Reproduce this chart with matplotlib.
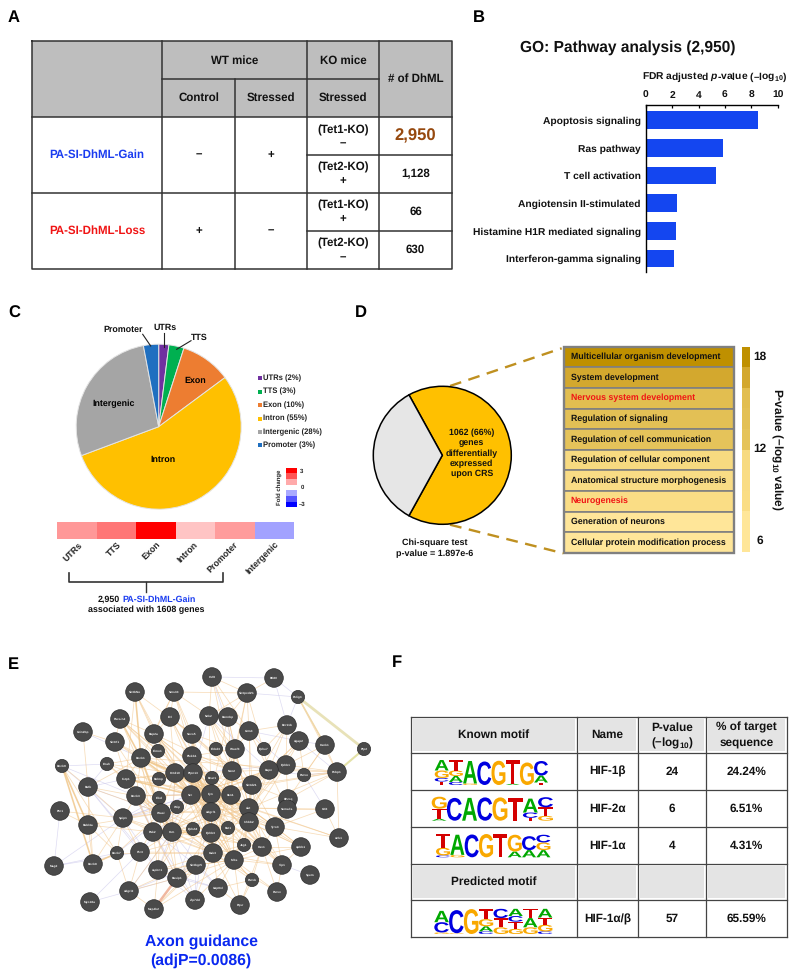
import numpy as np
import matplotlib
matplotlib.use("Agg")
import matplotlib.pyplot as plt
from matplotlib.colors import ListedColormap
from matplotlib.patches import Circle, PathPatch, Rectangle
from matplotlib.textpath import TextPath
from matplotlib.font_manager import FontProperties
from matplotlib.transforms import Affine2D

plt.rcParams['font.family'] = ['Liberation Sans', 'DejaVu Sans']
plt.rcParams['font.weight'] = 'bold'
plt.rcParams['text.hinting'] = 'no_hinting'
plt.rcParams['mathtext.fontset'] = 'custom'
plt.rcParams['mathtext.rm'] = 'Liberation Sans:bold'
plt.rcParams['mathtext.bf'] = 'Liberation Sans:bold'
plt.rcParams['mathtext.it'] = 'Liberation Sans:italic:bold'
plt.rcParams['mathtext.bfit'] = 'Liberation Sans:italic:bold'

# panel B
pathways = ['Apoptosis signaling', 'Ras pathway', 'T cell activation', 'Angiotensin II-stimulated',
            'Histamine H1R mediated signaling', 'Interferon-gamma signaling']
pathway_fdr = [8.5, 5.83, 5.33, 2.35, 2.27, 2.17]

# panel C
region_names = ['UTRs', 'TTS', 'Exon', 'Intron', 'Intergenic', 'Promoter']
region_pct = [2, 3, 10, 55, 28, 3]
region_colors = ['#7030A0', '#00B050', '#ED7D31', '#FFC000', '#A5A5A5', '#1F6FC0']
heat_names = ['UTRs', 'TTS', 'Exon', 'Intron', 'Promoter', 'Intergenic']
heat_fold = [1.2, 1.6, 3.0, 0.7, 1.17, -1.1]
fold_scale = [3, 2, 1, 0, -1, -2, -3]

# panel D
deg_counts = [1062, 546]
go_terms = ['Multicellular organism development', 'System development', 'Nervous system development',
            'Regulation of signaling', 'Regulation of cell communication', 'Regulation of cellular component',
            'Anatomical structure morphogenesis', 'Neurogenesis', 'Generation of neurons',
            'Cellular protein modification process']
go_colors = ['#BF9000', '#D3A82E', '#E2BE50', '#E3C055', '#E5C35A', '#F7DA80', '#F9DC85', '#FADD85', '#FFE699', '#FFE699']
go_red = ['Nervous system development', 'Neurogenesis']

# panel E
node_names = ['Sh3bNe', 'Sms33', 'Ezl', 'Pacsin2', 'Grin2bp', 'Sh3rf1', 'Rap2a', 'Socs5', 'Dock1', 'Elmo1',
              'Plekb1', 'Enah', 'Dock9', 'Fstp1', 'Kctd10', 'Ptpn13', 'Relmp', 'Rafb', 'Dock3', 'Elkd',
              'Src', 'Wasl', 'Wip', 'Ptn1', 'Spip1', 'Rabl4a', 'Pak2', 'Ctm', 'EphA8', 'Hic3',
              'Dock7', 'Dock8', 'Mag2', 'Atpbn1', 'Sh3bgr5', 'Rasip1', 'Adgrl2', 'Zfp7dd', 'Myo18a', 'Map2k2',
              'Cef8', 'Rtl80', 'Sh3pxd2b', 'Pelig4', 'Nck2', 'Dennbp', 'Grm3', 'Bcr11b', 'Agap2', 'Kank1',
              'Ptp2', 'Ehbd3', 'Wasf3', 'Ephe7', 'Ephb1', 'Dapn', 'Nsn2', 'Bcar1', 'Parvo', 'Pebp1',
              'Sh3d21', 'Fyn', 'Itsn1', 'Dhcrq', 'Sema7a', 'Gtl3', 'Akt', 'Adgrf1', 'Inhbb2', 'Rat1',
              'Tyro3', 'Ephb3', 'Ank1', 'Jag1', 'Cav1', 'Apbb1', 'Gsk3', 'Mlbs', 'Vip1', 'Syem',
              'Parvb', 'Parvx', 'Uap8nl', 'Pqsr']
node_x = [135, 174, 170, 120, 83, 115, 154, 192, 141, 158, 192, 107, 62, 126, 175, 193, 159, 88, 136, 159,
          191, 161, 177, 60, 123, 88, 153, 172, 193, 140, 117, 93, 54, 158, 196, 177, 129, 195, 90, 154,
          212, 274, 247, 298, 209, 228, 249, 287, 299, 325, 364, 216, 235, 264, 286, 269, 232, 212, 304, 337,
          252, 211, 231, 288, 287, 325, 249, 211, 249, 228, 275, 211, 339, 244, 262, 301, 213, 234, 282, 310,
          252, 277, 218, 240]
node_y = [692, 692, 717, 719, 732, 742, 734, 734, 758, 751, 756, 764, 766, 779, 773, 773, 779, 787, 796, 798,
          795, 813, 807, 811, 818, 825, 832, 832, 829, 852, 853, 864, 866, 870, 865, 878, 891, 900, 902, 909,
          677, 678, 693, 697, 716, 717, 731, 725, 741, 745, 749, 749, 749, 749, 765, 770, 771, 778, 775, 772,
          785, 794, 795, 799, 809, 809, 808, 812, 822, 828, 827, 833, 838, 845, 847, 847, 853, 860, 865, 875,
          880, 892, 888, 905]
small_nodes = ['Enah', 'Dock9', 'Relmp', 'Elkd', 'Wip', 'EphA8', 'Dock7', 'Pelig4', 'Ptp2', 'Ehbd3', 'Ephe7',
               'Bcar1', 'Parvo', 'Rat1', 'Jag1', 'Parvb', 'Elmo1']

orange_edges = {
    'Sh3bNe': 'Rap2a Dock1 Socs5 Fstp1 Kctd10 Src',
    'Sms33': 'Ezl Socs5 Rap2a Plekb1 Nck2 Sh3pxd2b Dock1 Fyn',
    'Ezl': 'Rap2a Socs5 Plekb1 Ptpn13 Kctd10 Fyn Nsn2',
    'Pacsin2': 'Dock1 Sh3rf1 Rap2a Kctd10 Src Fyn Elmo1 Wasl',
    'Grin2bp': 'Sh3rf1 Rafb',
    'Sh3rf1': 'Dock1 Fstp1 Src Wasl Kctd10',
    'Rap2a': 'Fyn Src Wasl Ptpn13 Nsn2 Akt Itsn1 Adgrf1',
    'Socs5': 'Fyn Src Plekb1 Wasf3 Gsk3 Nsn2 Sh3d21 Ephb3',
    'Dock1': 'Kctd10 Src Wasl Ptpn13 Fyn Elmo1 Pak2 Akt Itsn1 Dock3 Rafb Fstp1 Pebp1 Ctm',
    'Plekb1': 'Fyn Src Akt Adgrf1 Ephb3 Wasf3 Nsn2 Dapn',
    'Enah': 'Fstp1 Dock1 Wasl Src Kctd10',
    'Dock9': 'Dock8 Rabl4a Rafb Dock7',
    'Fstp1': 'Src Wasl Kctd10 Pak2 Ctm Fyn Ptpn13 Itsn1',
    'Kctd10': 'Fyn Src Ctm Wasl Adgrf1 Ephb3 Gsk3 Akt Itsn1 Mlbs Inhbb2',
    'Ptpn13': 'Fyn Src Adgrf1 Ephb3 Gsk3 Itsn1 Akt Mlbs Sh3d21 Dapn Inhbb2 Cav1',
    'Rafb': 'Dock3 Spip1 Rabl4a Dock8 Wasl',
    'Dock3': 'Src Fyn Wasl Pak2 Ctm Spip1 Gsk3 Ephb3',
    'Src': 'Fyn Adgrf1 Ephb3 Gsk3 Akt Itsn1 Mlbs Nsn2 Inhbb2 Cav1 Tyro3 Sh3d21 Dapn Jag1 Apbb1 Ephb1 Vip1',
    'Wasl': 'Fyn Ctm Pak2 Gsk3 Ephb3 Adgrf1 Akt Mlbs Spip1 Atpbn1 Rasip1',
    'Ptn1': 'Rabl4a Spip1',
    'Spip1': 'Pak2 Ctm Dock7 Fyn Hic3 Dock8 Gsk3',
    'Rabl4a': 'Dock8 Dock7 Pak2 Wasl',
    'Pak2': 'Ctm Fyn Gsk3 Ephb3 Akt Atpbn1 Rasip1 Adgrf1',
    'Ctm': 'Fyn Gsk3 Ephb3 Mlbs Akt Cav1 Rasip1 Inhbb2 Itsn1',
    'Hic3': 'Wasl Ctm Ephb3 Gsk3 Adgrl2',
    'Dock7': 'Dock8 Wasl Gsk3 Adgrl2',
    'Atpbn1': 'Fyn Gsk3 Mlbs Src Map2k2',
    'Sh3bgr5': 'Gsk3 Mlbs Fyn Rasip1',
    'Rasip1': 'Gsk3 Mlbs Ephb3 Akt',
    'Adgrl2': 'Map2k2 Rasip1 Gsk3 Ctm',
    'Map2k2': 'Gsk3 Mlbs Sh3bgr5',
    'Zfp7dd': 'Gsk3 Mlbs Rasip1',
    'Uap8nl': 'Mlbs Gsk3 Parvb Pqsr',
    'Pqsr': 'Mlbs Parvb Gsk3 Cav1',
    'Cef8': 'Sh3pxd2b Nck2 Dennbp Grm3 Nsn2',
    'Rtl80': 'Sh3pxd2b',
    'Sh3pxd2b': 'Nck2 Dennbp Grm3 Wasf3 Nsn2 Dapn',
    'Nck2': 'Dennbp Wasf3 Nsn2 Fyn Itsn1 Sh3d21',
    'Dennbp': 'Grm3 Wasf3 Nsn2 Fyn Akt',
    'Grm3': 'Ephe7 Dapn Wasf3 Sh3d21 Akt',
    'Bcr11b': 'Agap2 Ephb1 Dapn Ephe7 Grm3 Sh3d21',
    'Agap2': 'Ephb1 Dapn Sh3d21 Akt Parvo',
    'Pelig4': 'Kank1 Pebp1',
    'Kank1': 'Pebp1 Ephb1 Parvo Dhcrq',
    'Pebp1': 'Ephb1 Parvo Dhcrq Akt Sh3d21 Ank1 Fyn Dapn',
    'Ephb1': 'Dapn Sh3d21 Fyn Akt Dhcrq Inhbb2 Itsn1',
    'Dapn': 'Sh3d21 Fyn Akt Itsn1 Inhbb2 Sema7a',
    'Wasf3': 'Nsn2 Fyn Akt Itsn1 Ephb3',
    'Nsn2': 'Fyn Akt Itsn1 Adgrf1 Ephb3 Gsk3 Mlbs',
    'Sh3d21': 'Fyn Akt Itsn1 Inhbb2 Tyro3 Cav1 Dhcrq',
    'Fyn': 'Itsn1 Akt Adgrf1 Ephb3 Gsk3 Inhbb2 Mlbs Jag1 Cav1 Tyro3 Apbb1 Vip1 Ank1',
    'Itsn1': 'Akt Adgrf1 Ephb3 Gsk3 Inhbb2 Mlbs Cav1 Tyro3',
    'Akt': 'Inhbb2 Ephb3 Gsk3 Mlbs Tyro3 Cav1 Apbb1 Sema7a Gtl3 Ank1 Vip1 Jag1',
    'Adgrf1': 'Ephb3 Gsk3 Rat1 Mlbs Inhbb2 Cav1',
    'Inhbb2': 'Tyro3 Jag1 Cav1 Gsk3 Mlbs Apbb1 Vip1',
    'Tyro3': 'Apbb1 Cav1 Sema7a Gtl3 Ank1 Vip1',
    'Ephb3': 'Gsk3 Mlbs Jag1 Cav1 Parvb',
    'Gsk3': 'Mlbs Jag1 Cav1 Parvb Parvx Vip1',
    'Mlbs': 'Parvb Cav1 Vip1 Parvx Apbb1',
    'Cav1': 'Vip1 Apbb1 Parvx Parvb',
    'Vip1': 'Parvx Apbb1',
    'Gtl3': 'Ank1 Sema7a',
}
lilac_edges = {
    'Rafb': 'Fstp1 Wasl Hic3 Atpbn1 Enah',
    'Dock9': 'Enah Dock3 Spip1',
    'Mag2': 'Spip1 Hic3 Dock7 Ptn1',
    'Myo18a': 'Hic3 Rasip1',
    'Grin2bp': 'Dock1',
    'Spip1': 'Src Elkd Wip Atpbn1',
    'Pak2': 'Zfp7dd Sh3bgr5 Fstp1',
    'Ctm': 'Zfp7dd Uap8nl Adgrl2 Kctd10',
    'Atpbn1': 'Zfp7dd Uap8nl Ptpn13',
    'Rasip1': 'Zfp7dd Uap8nl Dock3',
    'Cef8': 'Rtl80 Wasf3',
    'Rtl80': 'Pelig4 Bcr11b',
    'Pelig4': 'Bcr11b Sh3pxd2b',
    'Nck2': 'Ptpn13 Dapn',
    'Grm3': 'Ephb1 Agap2',
    'Parvo': 'Dapn Pebp1 Gtl3',
    'Agap2': 'Kank1 Pebp1',
    'Ephb1': 'Ptpn13',
    'Fyn': 'Rasip1 Zfp7dd Dock3',
    'Sh3bgr5': 'Uap8nl Zfp7dd Adgrl2',
    'Syem': 'Vip1',
    'Src': 'Spip1 Hic3 Dock7',
}
strong_edges = ['Dock1 Kctd10', 'Dock1 Src', 'Dock1 Wasl', 'Kctd10 Fyn', 'Ptpn13 Fyn', 'Src Fyn', 'Wasl Ctm', 'Fstp1 Src',
                'Sh3bNe Dock1', 'Pacsin2 Dock1', 'Dock9 Dock8', 'Dock9 Rabl4a', 'Ctm Ephb3', 'Gsk3 Ephb3', 'Fyn Akt', 'Dock7 Dock8']
special_edges = ['Map2k2 Rasip1', 'Pelig4 Ptp2', 'Ptp2 Pebp1', 'Pelig4 Kank1']

# panel F
table_rows = [['HIF-1β', '24', '24.24%'], ['HIF-2α', '6', '6.51%'], ['HIF-1α', '4', '4.31%'],
              ['', '', ''], ['HIF-1α/β', '57', '65.59%']]
motif_hif1b = [[('T', .14), ('C', .14), ('G', .3), ('A', .42)], [('C', .12), ('A', .24), ('G', .22), ('T', .42)],
               [('G', .06), ('A', .9)], [('C', .94)], [('G', .97)], [('A', .05), ('T', .95)], [('G', .9)],
               [('T', .1), ('A', .28), ('C', .58)]]
motif_hif2a = [[('A', .08), ('T', .42), ('G', .5)], [('C', .95)], [('A', .95)], [('C', .97)], [('G', .97)],
               [('T', .95)], [('T', .12), ('C', .22), ('A', .58)], [('G', .2), ('T', .36), ('C', .42)]]
motif_hif1a = [[('C', .08), ('G', .32), ('T', .58)], [('G', .1), ('A', .84)], [('C', .95)], [('G', .97)],
               [('T', .97)], [('A', .24), ('G', .7)], [('A', .3), ('C', .58)], [('A', .3), ('G', .32), ('C', .32)]]
motif_pred = [[('G', .06), ('C', .4), ('A', .44)], [('G', .03), ('C', .9)], [('G', .97)],
              [('C', .1), ('A', .2), ('G', .28), ('T', .38)], [('G', .26), ('T', .36), ('C', .36)],
              [('G', .2), ('T', .28), ('C', .22), ('A', .28)], [('G', .26), ('A', .36), ('T', .36)],
              [('C', .1), ('G', .26), ('T', .28), ('A', .34)]]
letter_colors = {'A': '#00A800', 'C': '#0000E0', 'G': '#F9A800', 'T': '#D40000'}

W, H = 800, 975
fig = plt.figure(figsize=(W / 100, H / 100), dpi=100)
ax = fig.add_axes([0, 0, 1, 1])
ax.set_xlim(0, W)
ax.set_ylim(H, 0)
ax.axis('off')
top = fig.add_axes([0, 0, 1, 1], zorder=5)
top.set_xlim(0, W)
top.set_ylim(H, 0)
top.axis('off')


def px_axes(x0, y0, x1, y1):
    return fig.add_axes([x0 / W, 1 - y1 / H, (x1 - x0) / W, (y1 - y0) / H])


def label(x, y, s, size=8.3, color='#111111', ha='center', **kw):
    top.text(x, y, s, fontsize=size, color=color, ha=ha, va='center', **kw)


for letter, lx, ly in [('A', 14, 18), ('B', 479, 18), ('C', 14, 313), ('D', 361, 313), ('E', 13, 665), ('F', 397, 663)]:
    label(lx, ly, letter, size=12, color='black')

# ---- A: table
xs = [32, 162, 234.5, 306.5, 379, 452]
ys = [41, 79, 117, 155, 193, 231, 269]
ax.add_patch(Rectangle((xs[0], ys[0]), xs[-1] - xs[0], ys[2] - ys[0], fc='#BEBEBE', ec='none'))
lc = '#333333'
ax.plot([xs[0], xs[-1], xs[-1], xs[0], xs[0]], [ys[0], ys[0], ys[-1], ys[-1], ys[0]], color=lc, lw=1.1)
ax.plot([xs[1], xs[1]], [ys[0], ys[-1]], color=lc, lw=1.1)
ax.plot([xs[2], xs[2]], [ys[1], ys[-1]], color=lc, lw=1.1)
ax.plot([xs[3], xs[3]], [ys[0], ys[-1]], color=lc, lw=1.1)
ax.plot([xs[4], xs[4]], [ys[0], ys[-1]], color=lc, lw=1.1)
ax.plot([xs[1], xs[4]], [ys[1], ys[1]], color=lc, lw=1.1)
ax.plot([xs[0], xs[-1]], [ys[2], ys[2]], color=lc, lw=1.1)
ax.plot([xs[0], xs[-1]], [ys[4], ys[4]], color=lc, lw=1.1)
ax.plot([xs[3], xs[-1]], [ys[3], ys[3]], color=lc, lw=1.1)
ax.plot([xs[3], xs[-1]], [ys[5], ys[5]], color=lc, lw=1.1)
label(234.5, 60.5, 'WT mice')
label(343, 60.5, 'KO mice')
label(198.5, 98, 'Control')
label(270.5, 98, 'Stressed')
label(343, 98, 'Stressed')
label(415.5, 79, '# of DhML')
label(97, 155, 'PA-SI-DhML-Gain', color='#1A3CF0')
label(97, 231, 'PA-SI-DhML-Loss', color='#F01414')
for x_, y_, s in [(198.5, 155, '–'), (270.5, 155, '+'), (198.5, 231, '+'), (270.5, 231, '–')]:
    label(x_, y_, s)
for y_, s in [(130, '(Tet1-KO)'), (167.5, '(Tet2-KO)'), (205.5, '(Tet1-KO)'), (243.5, '(Tet2-KO)')]:
    label(343, y_, s)
for y_, s in [(144, '–'), (181, '+'), (219, '+'), (257.5, '–')]:
    label(343, y_, s)
label(415.5, 136, '2,950', size=12, color='#96490F')
label(415.5, 174, '1,128')
label(415.5, 212, '66')
label(415.5, 250, '630')

# ---- B: bars
axb = px_axes(645.7, 105, 777.7, 272)
axb.barh(np.arange(len(pathways)), pathway_fdr, height=0.63, color='#1446F0')
axb.set_xlim(0, 10)
axb.set_ylim(5.49, -0.55)
axb.set_xticks([0, 2, 4, 6, 8, 10])
axb.set_yticks(np.arange(len(pathways)))
axb.set_yticklabels(pathways, fontsize=7.4, color='#111111')
axb.xaxis.tick_top()
axb.tick_params(axis='x', direction='in', length=2.5, width=0.9, labelsize=7.4, pad=3.5, labelcolor='#111111')
axb.tick_params(axis='y', length=0, pad=3.5)
axb.spines['right'].set_visible(False)
axb.spines['bottom'].set_visible(False)
axb.spines['top'].set_linewidth(1.0)
axb.spines['left'].set_linewidth(1.0)
axb.patch.set_alpha(0)
label(628, 48, 'GO: Pathway analysis (2,950)', size=11.2)
label(715, 77, 'FDR adjusted $\\mathbfit{p}$-value (–log$_{\\mathbf{10}}$)', size=7.4)

# ---- C: pie, legend, heat strip
axc = px_axes(158.7 - 82.5, 426.7 - 82.5, 158.7 + 82.5, 426.7 + 82.5)
axc.pie(region_pct, colors=region_colors, startangle=90, counterclock=False, radius=1,
        wedgeprops={'edgecolor': '#E4E4E4', 'linewidth': 0.7})
axc.set_xlim(-1, 1)
axc.set_ylim(-1, 1)
label(195, 381, 'Exon', size=6.4, color='black')
label(113.7, 404, 'Intergenic', size=6.4, color='black')
label(162.7, 460, 'Intron', size=6.4, color='black')
label(123, 330, 'Promoter', size=6.4)
label(165, 328, 'UTRs', size=6.4)
label(199, 338, 'TTS', size=6.4)
top.plot([142.7, 150.7], [334.3, 346], color='#222222', lw=0.8)
top.plot([163.7, 163.7], [333.3, 346.7], color='#222222', lw=0.8)
top.plot([191, 176.7], [340.7, 349.3], color='#222222', lw=0.8)
for i, (name, pct, col) in enumerate(zip(region_names, region_pct, region_colors)):
    ly = 378.3 + i * 13.4
    ax.add_patch(Rectangle((257.7, ly - 2), 4, 4, fc=col, ec='none'))
    label(263, ly, f'{name} ({pct}%)', size=5.5, ha='left', color='#222222')

axh = px_axes(57.3, 521.7, 294, 539.3)
axh.pcolormesh(np.array([heat_fold]), cmap='bwr', vmin=-3, vmax=3)
axh.set_xticks(np.arange(len(heat_names)) + 0.5)
axh.set_xticklabels([])
axh.set_yticks([])
axh.tick_params(length=0)
for sp in axh.spines.values():
    sp.set_visible(False)
for name, lx, ly in zip(heat_names, [72.7, 114, 151.7, 188, 223, 262.7], [551.7, 549, 550.7, 552, 557, 558]):
    label(lx, ly, name, size=6.4, rotation=45, color='#222222')
axs = px_axes(285.7, 467.7, 296.7, 507.3)
axs.pcolormesh(np.array(fold_scale)[::-1].reshape(-1, 1), cmap='bwr', vmin=-3, vmax=3)
axs.axis('off')
label(279, 487.5, 'Fold change', size=4.3, rotation=90, color='#222222')
label(302, 471, '3', size=4.3, color='#222222')
label(302, 487.3, '0', size=4.3, color='#222222')
label(302, 504.3, '–3', size=4.3, color='#222222')
ax.plot([68.7, 68.7, 222.7, 222.7], [573, 582.3, 582.3, 573], color='#333333', lw=1.2)
ax.plot([145.7, 145.7], [582.3, 592], color='#333333', lw=1.0)
label(97.3, 599.7, '2,950', size=6.4, ha='left')
label(122, 599.7, 'PA-SI-DhML-Gain', size=6.4, ha='left', color='#1A3CF0')
label(146, 610, 'associated with 1608 genes', size=6.4)

# ---- D: pie and GO table
gold = '#BF9020'
axd = px_axes(442.3 - 70, 455.3 - 70, 442.3 + 70, 455.3 + 70)
axd.pie(deg_counts, colors=['#FFC000', '#E6E6E6'], startangle=-118.9, radius=69 / 70,
        wedgeprops={'edgecolor': 'black', 'linewidth': 1.1})
axd.set_xlim(-1, 1)
axd.set_ylim(-1, 1)
for i, s in enumerate(['1062 (66%)', 'genes', 'differentially', 'expressed', 'upon CRS']):
    label(471.7, 432.7 + i * 10.4, s, size=6.3)
label(434.3, 543.3, 'Chi-square test', size=6.5)
label(434.3, 553.7, 'p-value = 1.897e-6', size=6.5)
ax.plot([450, 561.7], [386, 348.3], color=gold, lw=1.7, ls=(0, (5, 3.2)))
ax.plot([450, 563.3], [524.7, 553.3], color=gold, lw=1.7, ls=(0, (5, 3.2)))

row_h = (552.7 - 346.7) / len(go_terms)
for i, (term, col) in enumerate(zip(go_terms, go_colors)):
    ytop = 346.7 + i * row_h
    ax.add_patch(Rectangle((564, ytop), 170, row_h, fc=col, ec='#808080', lw=1.2))
    label(570.7, ytop + row_h / 2, term, size=6.3, ha='left',
          color='#F01414' if term in go_red else '#111111')
ax.add_patch(Rectangle((564, 346.7), 170, 206, fc='none', ec='#808080', lw=1.7))
axg = px_axes(741.7, 347, 749.7, 552)
# row 0 of the mesh is the bottom cell, so it takes the lightest colour
axg.pcolormesh(np.arange(len(go_colors)).reshape(-1, 1), cmap=ListedColormap(go_colors[::-1]))
axg.axis('off')
label(760, 356.7, '18', size=8.6)
label(760, 448.7, '12', size=8.6)
label(760, 540.7, '6', size=8.6)
label(777, 449, 'P-value (–log$_{\\mathbf{10}}$ value)', size=8.6, rotation=-90)

# ---- E: network
pos = {n: (x_, y_) for n, x_, y_ in zip(node_names, node_x, node_y)}
for src, targets in lilac_edges.items():
    for t in targets.split():
        ax.plot([pos[src][0], pos[t][0]], [pos[src][1], pos[t][1]], color='#C8C4EA', lw=0.5, alpha=0.6, zorder=1)
for src, targets in orange_edges.items():
    for t in targets.split():
        ax.plot([pos[src][0], pos[t][0]], [pos[src][1], pos[t][1]], color='#F2C68C', lw=0.55, alpha=0.6, zorder=1.2)
for e in strong_edges:
    a, b = e.split()
    ax.plot([pos[a][0], pos[b][0]], [pos[a][1], pos[b][1]], color='#F0C78A', lw=1.2, alpha=0.7, zorder=1.3)
for e, c, w in zip(special_edges, ['#F0B8A0', '#E8E2B8', '#E4E2A8', '#F0D8A8'], [1.8, 2.0, 1.5, 1.1]):
    a, b = e.split()
    ax.plot([pos[a][0], pos[b][0]], [pos[a][1], pos[b][1]], color=c, lw=w, zorder=1.3)
for n, x_, y_ in zip(node_names, node_x, node_y):
    r = 6.6 if n in small_nodes else 9.3
    ax.add_patch(Circle((x_, y_), r, fc='#4A4A4A', ec='#2E2E2E', lw=0.5, zorder=3))
    ax.text(x_, y_, n, fontsize=2.3, color='#EDEDED', ha='center', va='center', zorder=4)
label(201, 942, 'Axon guidance', size=11.3, color='#0A28F0')
label(201, 960.7, '(adjP=0.0086)', size=11.3, color='#0A28F0')

# ---- F: motif table
fx = [410.7, 576.7, 638.3, 705.7, 787.3]
fy = [716.7, 752.7, 789.7, 826.7, 863.7, 900.3, 937]
for r in [0, 4]:
    for c in range(4):
        ax.add_patch(Rectangle((fx[c] + 1.8, fy[r] + 1.8), fx[c + 1] - fx[c] - 3.6, fy[r + 1] - fy[r] - 3.6,
                               fc='#E4E4E4', ec='none'))
for x_ in fx:
    ax.plot([x_, x_], [fy[0], fy[-1]], color='#444444', lw=0.9)
for y_ in fy:
    ax.plot([fx[0], fx[-1]], [y_, y_], color='#444444', lw=0.9)
label(494, 735, 'Known motif', size=8.5)
label(607.5, 735, 'Name', size=8.5)
label(672, 727.5, 'P-value', size=8.5)
label(672, 743, '(–log$_{\\mathbf{10}}$)', size=8.5)
label(746.5, 727.5, '% of target', size=8.5)
label(746.5, 742.5, 'sequence', size=8.5)
label(494, 882, 'Predicted motif', size=8.5)
for row, yc in zip(table_rows, [771.5, 808.5, 845.5, 882, 919]):
    for c, s in enumerate(row):
        label((fx[c + 1] + fx[c + 2]) / 2, yc, s, size=8.5)

font = FontProperties(family='Liberation Sans', weight='bold')


def draw_logo(motif, x0, x1, y0, y1):
    w = (x1 - x0) / len(motif)
    hh = y1 - y0
    for i, stack in enumerate(motif):
        base = y1
        for letter, frac in stack:
            tp = TextPath((0, 0), letter, size=10, prop=font)
            bb = tp.get_extents()
            h_ = frac * hh
            tr = (Affine2D().translate(-bb.x0, -bb.y0).scale(w * 0.98 / bb.width, -h_ / bb.height)
                  .translate(x0 + i * w, base))
            ax.add_patch(PathPatch(tp, fc=letter_colors[letter], ec='none', transform=tr + ax.transData))
            base -= h_


draw_logo(motif_hif1b, 434.7, 548.3, 760, 785)
draw_logo(motif_hif2a, 431.7, 553.3, 796.7, 820.7)
draw_logo(motif_hif1a, 436, 550.7, 833.3, 857.3)
draw_logo(motif_pred, 434.3, 552.7, 908.3, 934)

fig.savefig('out.png', dpi=100)
